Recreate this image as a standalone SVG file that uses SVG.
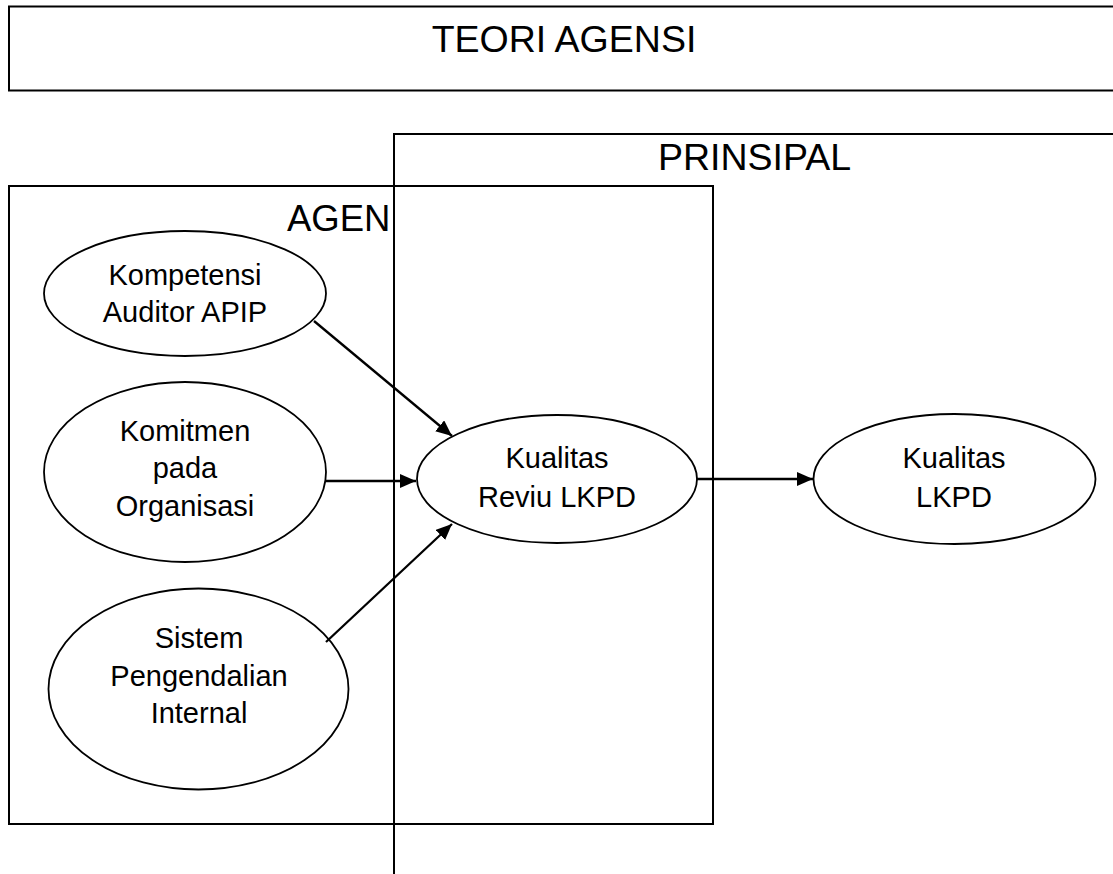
<svg xmlns="http://www.w3.org/2000/svg" width="1113" height="874" viewBox="0 0 1113 874">
<style>
.box{fill:none;stroke:#000;stroke-width:2}
.node{fill:#fff;stroke:#000;stroke-width:1.8}
.big{font-family:"Liberation Sans",Arial,sans-serif;font-size:37.5px;fill:#000}
.lbl{font-family:"Liberation Sans",Arial,sans-serif;font-size:29px;fill:#000;text-anchor:middle}
.edge{stroke:#000;stroke-width:2.3;fill:none;marker-end:url(#arr)}
</style>
<defs>
<marker id="arr" markerWidth="18" markerHeight="16" refX="16" refY="7" orient="auto" markerUnits="userSpaceOnUse">
<path d="M0,0 L16,7 L0,14 Z" fill="#000"/>
</marker>
</defs>
<g id="teori">
<rect class="box" x="9" y="6.5" width="1120" height="84"/>
<text class="big" x="564" y="52" text-anchor="middle">TEORI AGENSI</text>
</g>
<g id="agen">
<rect class="box" x="9" y="186" width="704" height="638"/>
<text class="big" x="287" y="231" style="font-size:36.5px">AGEN</text>
</g>
<g id="prinsipal">
<path class="box" d="M1120,134 H394 V880"/>
<text class="big" x="658" y="170">PRINSIPAL</text>
</g>
<g id="kompetensi">
<ellipse class="node" cx="185" cy="293.5" rx="141" ry="62.5"/>
<text class="lbl" x="185" y="285">Kompetensi</text>
<text class="lbl" x="185" y="322">Auditor APIP</text>
</g>
<g id="komitmen">
<ellipse class="node" cx="185" cy="472" rx="141" ry="90"/>
<text class="lbl" x="185" y="441">Komitmen</text>
<text class="lbl" x="185" y="478">pada</text>
<text class="lbl" x="185" y="516">Organisasi</text>
</g>
<g id="spi">
<ellipse class="node" cx="198.5" cy="689" rx="150" ry="100.5"/>
<text class="lbl" x="199" y="648">Sistem</text>
<text class="lbl" x="199" y="686">Pengendalian</text>
<text class="lbl" x="199" y="723">Internal</text>
</g>
<g id="reviu">
<ellipse class="node" cx="557" cy="479" rx="140" ry="64"/>
<text class="lbl" x="557" y="468">Kualitas</text>
<text class="lbl" x="557" y="507">Reviu LKPD</text>
</g>
<g id="lkpd">
<ellipse class="node" cx="954.5" cy="479" rx="141" ry="65"/>
<text class="lbl" x="954" y="468">Kualitas</text>
<text class="lbl" x="954" y="507">LKPD</text>
</g>
<g id="connectors">
<line class="edge" x1="314" y1="321" x2="452" y2="436"/>
<line class="edge" x1="326" y1="481" x2="416" y2="481"/>
<line class="edge" x1="326" y1="642" x2="452" y2="524"/>
<line class="edge" x1="697" y1="479" x2="813" y2="479"/>
</g>
</svg>
